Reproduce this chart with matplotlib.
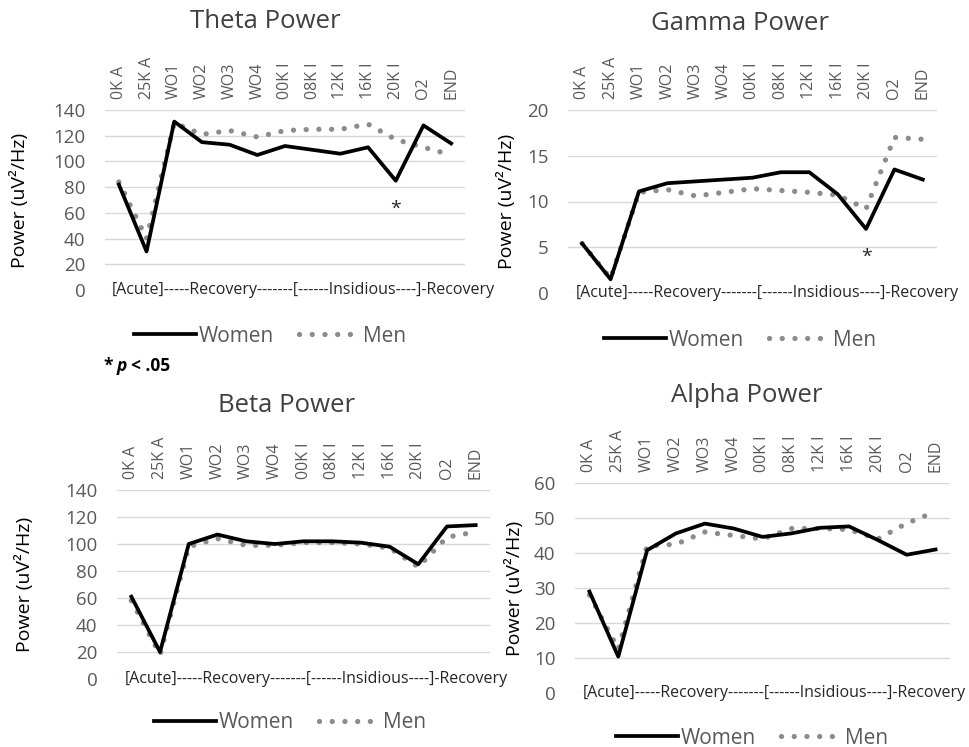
import matplotlib.pyplot as plt
import numpy as np

plt.rcParams['font.family'] = ['Open Sans', 'DejaVu Sans']

stages = ['0K A', '25K A', 'WO1', 'WO2', 'WO3', 'WO4', '00K I', '08K I',
          '12K I', '16K I', '20K I', 'O2', 'END']
phase_text = '[Acute]-----Recovery-------[------Insidious----]-Recovery'

theta_women = [82, 30, 131, 115, 113, 105, 112, 109, 106, 111, 85, 128, 114]
theta_men = [84, 40, 130, 121, 124, 119, 124, 125, 125, 129, 117, 111, 105]

gamma_women = [5.4, 1.5, 11.1, 12.0, 12.2, 12.4, 12.6, 13.2, 13.2, 10.8, 7.0, 13.5, 12.4]
gamma_men = [5.4, 1.6, 11.0, 11.3, 10.6, 11.0, 11.4, 11.2, 11.0, 10.7, 9.2, 17.0, 16.8]

beta_women = [61, 20, 100, 107, 102, 100, 102, 102, 101, 98, 85, 113, 114]
beta_men = [58, 18, 98, 104, 99, 99, 101, 101, 100, 97, 83, 105, 109]

alpha_women = [29, 10.4, 40.8, 45.6, 48.4, 47.0, 44.6, 45.6, 47.2, 47.6, 43.7, 39.5, 41.0]
alpha_men = [28, 12.5, 42, 42.5, 46, 45, 44, 47, 47, 46.7, 44, 48.5, 51.8]

W, H = 970, 747
fig = plt.figure(figsize=(W / 100, H / 100), dpi=100)

GREY = '#595959'


def px_axes(x0, y0, x1, y1):
    # pixel box (top-left origin) -> figure axes
    return fig.add_axes([x0 / W, 1 - y1 / H, (x1 - x0) / W, (y1 - y0) / H])


def panel(box, title, women, men, ymax, ystep, title_xy, ylab_x, leg_xy, star=False):
    ax = px_axes(*box)
    x = np.arange(len(stages))
    ax.plot(x, women, color='black', lw=2.7, label='Women', zorder=3)
    ax.plot(x, men, color='#8c8c8c', lw=3.8, linestyle=(0, (0.01, 2.4)),
            dash_capstyle='round', label='Men', zorder=2)
    ax.set_xlim(-0.5, len(stages) - 0.5)
    ax.set_ylim(0, ymax)
    ax.set_yticks(np.arange(0, ymax + ystep / 2, ystep))
    ax.grid(axis='y', color='#d9d9d9', lw=1)
    ax.set_axisbelow(True)
    for s in ax.spines.values():
        s.set_visible(False)
    ax.xaxis.tick_top()
    ax.set_xticks(x)
    ax.set_xticklabels(stages, rotation=90, fontsize=11.5, color=GREY)
    ax.tick_params(axis='x', length=0, pad=8)
    ax.tick_params(axis='y', length=0, pad=14, labelsize=13.5, labelcolor=GREY)
    ax.text(0.02, 0, phase_text, transform=ax.transAxes, fontsize=11.5,
            color='#262626', va='center', ha='left', clip_on=False,
            bbox=dict(facecolor='white', edgecolor='none', pad=1))
    fig.text(title_xy[0] / W, 1 - title_xy[1] / H, title, fontsize=18.5,
             color='#404040', ha='center', va='center')
    fig.text(ylab_x / W, 1 - (box[1] + box[3]) / 2 / H, 'Power (uV²/Hz)',
             rotation=90, fontsize=14, ha='center', va='center', color='black')
    if star:
        ax.annotate('*', (10, women[10]), xytext=(0, -20), textcoords='offset points',
                    ha='center', va='center', fontsize=14, color='#262626')
    ax.legend(loc='center', bbox_to_anchor=(leg_xy[0] / W, 1 - leg_xy[1] / H),
              bbox_transform=fig.transFigure, ncol=2, frameon=False,
              fontsize=15, handlelength=3.0, columnspacing=1.2,
              handletextpad=0.1, labelcolor=GREY)
    return ax


panel((105, 110, 465, 290), 'Theta Power', theta_women, theta_men, 140, 20,
      (265, 22), 20, (270, 336), star=True)
panel((568, 110, 937, 293), 'Gamma Power', gamma_women, gamma_men, 20, 5,
      (740, 23), 507, (740, 340), star=True)
panel((117, 490, 490, 679), 'Beta Power', beta_women, beta_men, 140, 20,
      (287, 405), 25, (290, 723))
panel((575, 483, 950, 693), 'Alpha Power', alpha_women, alpha_men, 60, 10,
      (747, 395), 515, (752, 738))

fig.text(103 / W, 1 - 366 / H, '*', fontsize=12.5, fontweight='bold', va='center')
fig.text(117 / W, 1 - 366 / H, 'p', fontsize=12.5, fontweight='bold',
         fontstyle='italic', va='center')
fig.text(131 / W, 1 - 366 / H, '< .05', fontsize=12.5, fontweight='bold', va='center')

fig.savefig('out.png', dpi=100)
